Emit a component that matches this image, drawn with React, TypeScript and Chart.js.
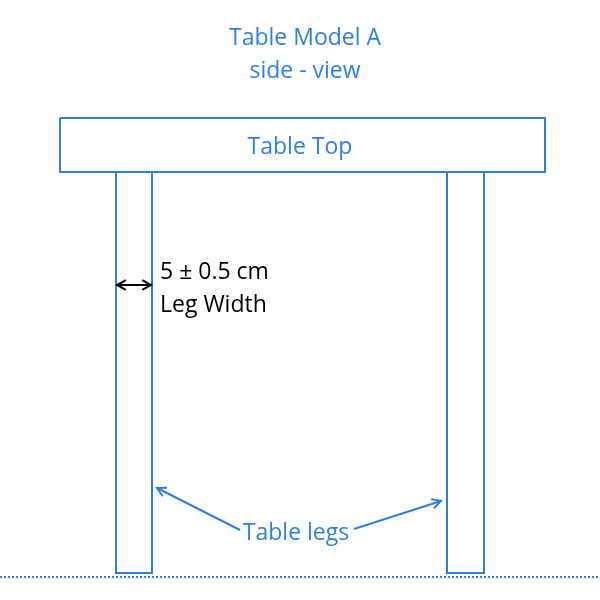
import React, { useEffect, useRef } from "react";
import { Chart, registerables } from "chart.js";
Chart.register(...registerables);

const BLUE = "#2f7fe0";
const tableTop = [[60, 118], [545, 118], [545, 172], [60, 172], [60, 118]];
const leftLeg = [[116, 172], [152, 172], [152, 573], [116, 573], [116, 172]];
const rightLeg = [[447, 172], [484, 172], [484, 573], [447, 573], [447, 172]];
const floorLine = [[0, 577], [600, 577]];
// arrows: [fromX, fromY, toX, toY, colour, headAtStart]
const arrows: [number, number, number, number, string, boolean][] = [
  [240, 530, 157, 488, BLUE, false],
  [354, 529, 441, 501, BLUE, false],
  [117, 285, 151, 285, "#000000", true],
];
const labels: [string, number, number, string, string][] = [
  ["Table Model A", 305, 38, BLUE, "center"],
  ["side - view", 305, 71, BLUE, "center"],
  ["Table Top", 300, 147, BLUE, "center"],
  ["5 ± 0.5 cm", 160, 272, "#000000", "left"],
  ["Leg Width", 160, 305, "#000000", "left"],
  ["Table legs", 296, 533, BLUE, "center"],
];

const pts = (a: number[][]) => a.map(([x, y]) => ({ x, y }));

export default function App() {
  const ref = useRef<HTMLCanvasElement>(null);
  useEffect(() => {
    const head = (ctx: CanvasRenderingContext2D, x: number, y: number, fx: number, fy: number) => {
      const ang = Math.atan2(y - fy, x - fx);
      const L = 10;
      ctx.beginPath();
      ctx.moveTo(x - L * Math.cos(ang - 0.5), y - L * Math.sin(ang - 0.5));
      ctx.lineTo(x, y);
      ctx.lineTo(x - L * Math.cos(ang + 0.5), y - L * Math.sin(ang + 0.5));
      ctx.stroke();
    };
    const deco = {
      id: "deco",
      afterDatasetsDraw(chart: any) {
        const { ctx, scales } = chart;
        const sx = (v: number) => scales.x.getPixelForValue(v);
        const sy = (v: number) => scales.y.getPixelForValue(v);
        ctx.save();
        ctx.lineWidth = 2;
        for (const [x1, y1, x2, y2, c, both] of arrows) {
          ctx.strokeStyle = c;
          ctx.beginPath();
          ctx.moveTo(sx(x1), sy(y1));
          ctx.lineTo(sx(x2), sy(y2));
          ctx.stroke();
          head(ctx, sx(x2), sy(y2), sx(x1), sy(y1));
          if (both) head(ctx, sx(x1), sy(y1), sx(x2), sy(y2));
        }
        ctx.font = "23px 'Open Sans', sans-serif";
        ctx.textBaseline = "middle";
        for (const [t, x, y, c, al] of labels) {
          ctx.fillStyle = c;
          ctx.textAlign = al as CanvasTextAlign;
          ctx.fillText(t, sx(x), sy(y));
        }
        ctx.restore();
      },
    };
    const ds = (d: number[][], dash: number[] = []) => ({
      data: pts(d),
      showLine: true,
      borderColor: BLUE,
      borderWidth: 2,
      borderDash: dash,
      pointRadius: 0,
      fill: false,
      tension: 0,
    });
    const chart = new Chart(ref.current!, {
      type: "scatter",
      data: {
        datasets: [ds(tableTop), ds(leftLeg), ds(rightLeg), ds(floorLine, [2, 2])],
      },
      options: {
        animation: false,
        responsive: false,
        layout: { padding: 0 },
        plugins: { legend: { display: false }, tooltip: { enabled: false } },
        scales: {
          x: { type: "linear", min: 0, max: 600, display: false },
          y: { type: "linear", min: 0, max: 600, reverse: true, display: false },
        },
      },
      plugins: [deco],
    });
    return () => chart.destroy();
  }, []);
  return (
    <canvas
      ref={ref}
      width={600}
      height={600}
      style={{ position: "absolute", left: 0, top: 0, width: 600, height: 600 }}
    />
  );
}
